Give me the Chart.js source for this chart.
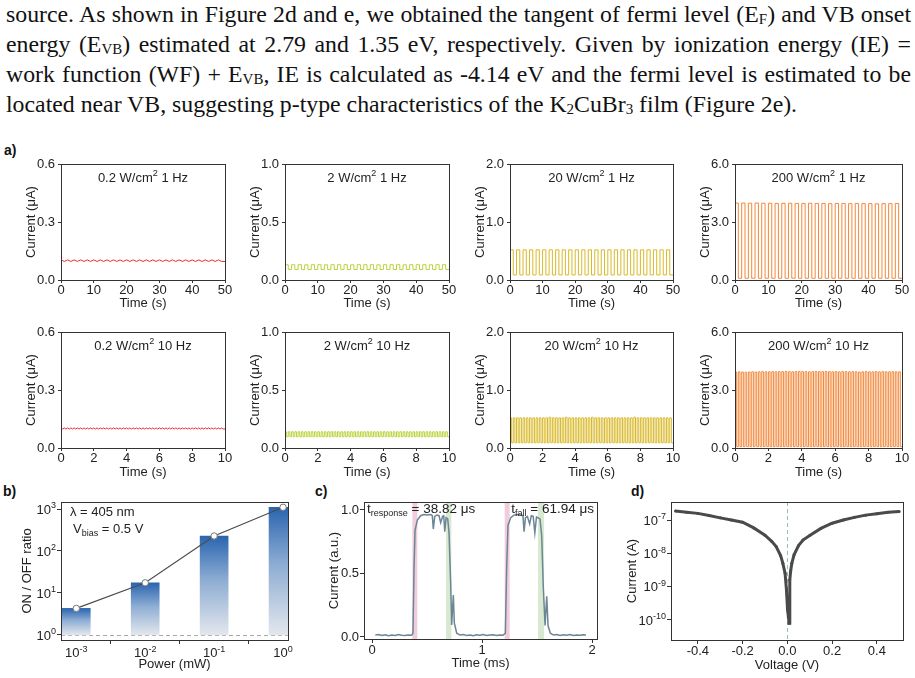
<!DOCTYPE html>
<html>
<head>
<meta charset="utf-8">
<script src="https://cdn.jsdelivr.net/npm/chart.js@4.4.1/dist/chart.umd.min.js"></script>
<style>
  body { margin: 0; width: 915px; height: 678px; background: #fff; position: relative; overflow: hidden;
         font-family: "Liberation Sans", Arial, sans-serif; }
  .para { position: absolute; left: 6px; top: -1px; width: 905px; color: #111;
          font-family: "Liberation Serif", "Times New Roman", serif; font-size: 23.8px; line-height: 30px; }
  .para div { white-space: nowrap; }
  .para .j { text-align: justify; text-align-last: justify; }
  .para sub { font-size: 15px; vertical-align: -2px; line-height: 0; }
  .lab { position: absolute; font-weight: bold; font-size: 14px; color: #111; }
  canvas { position: absolute; }
</style>
</head>
<body>
<div class="para">
  <div class="j">source. As shown in Figure 2d and e, we obtained the tangent of fermi level (E<sub>F</sub>) and VB onset</div>
  <div class="j">energy (E<sub>VB</sub>) estimated at 2.79 and 1.35 eV, respectively. Given by ionization energy (IE) =</div>
  <div class="j">work function (WF) + E<sub>VB</sub>, IE is calculated as -4.14 eV and the fermi level is estimated to be</div>
  <div>located near VB, suggesting p-type characteristics of the K<sub>2</sub>CuBr<sub>3</sub> film (Figure 2e).</div>
</div>
<div class="lab" style="left:4px;top:142px">a)</div>
<div class="lab" style="left:3px;top:483px">b)</div>
<div class="lab" style="left:315px;top:483px">c)</div>
<div class="lab" style="left:631px;top:483px">d)</div>

<script>
// ---------- panel a : pulsed photocurrent ----------
const powerLabels = ['0.2', '2', '20', '200'];          // W/cm2
const freqLabels = ['1 Hz', '10 Hz'];
const yMaxA = [0.6, 1.0, 2.0, 6.0];
const yTicksA = [[0, 0.3, 0.6], [0, 0.5, 1.0], [0, 1.0, 2.0], [0, 3.0, 6.0]];
const xTicksA = [[0, 10, 20, 30, 40, 50], [0, 2, 4, 6, 8, 10]];
const xMaxA = [50, 10];
const pulseOnTime = [1.0, 0.1];                          // s, light on (then same time off)
const waveColors = ['#ec2b2b', '#bcd23c', '#d9b92a', '#f3883b'];

const offLevel1Hz = [0.096, 0.090, 0.088, 0.090];
const offLevel10Hz = [0.098, 0.097, 0.090, 0.070];

// on-state current of each pulse (uA)
const on1Hz_0p2W = [0.104,0.104,0.104,0.104,0.104,0.104,0.104,0.104,0.104,0.104,0.104,0.104,0.104,
  0.104,0.104,0.104,0.104,0.104,0.104,0.104,0.104,0.104,0.104,0.104,0.104];
const on1Hz_2W = [0.132,0.132,0.132,0.131,0.132,0.132,0.131,0.132,0.132,0.132,0.131,0.132,0.132,
  0.132,0.131,0.132,0.132,0.132,0.131,0.132,0.132,0.132,0.131,0.132,0.132];
const on1Hz_20W = [0.52,0.52,0.52,0.52,0.52,0.52,0.52,0.52,0.52,0.52,0.52,0.52,0.52,
  0.52,0.52,0.52,0.52,0.52,0.52,0.52,0.52,0.52,0.52,0.52,0.52];
const on1Hz_200W = [3.98,3.98,3.97,3.98,3.97,3.97,3.96,3.97,3.97,3.96,3.96,3.97,3.96,
  3.96,3.95,3.96,3.96,3.95,3.96,3.95,3.95,3.94,3.95,3.95,3.96];

const on10Hz_0p2W = [0.104,0.104,0.104,0.104,0.104,0.104,0.104,0.104,0.104,0.104,
  0.104,0.104,0.104,0.104,0.104,0.104,0.104,0.104,0.104,0.104,
  0.104,0.104,0.104,0.104,0.104,0.104,0.104,0.104,0.104,0.104,
  0.104,0.104,0.104,0.104,0.104,0.104,0.104,0.104,0.104,0.104,
  0.104,0.104,0.104,0.104,0.104,0.104,0.104,0.104,0.104,0.104];
const on10Hz_2W = [0.14,0.14,0.14,0.14,0.14,0.14,0.14,0.14,0.14,0.14,
  0.14,0.14,0.14,0.14,0.14,0.14,0.14,0.14,0.14,0.14,
  0.14,0.14,0.14,0.14,0.14,0.14,0.14,0.14,0.14,0.14,
  0.14,0.14,0.14,0.14,0.14,0.14,0.14,0.14,0.14,0.14,
  0.14,0.14,0.14,0.14,0.14,0.14,0.14,0.14,0.14,0.14];
const on10Hz_20W = [0.52,0.52,0.52,0.52,0.52,0.52,0.52,0.52,0.52,0.52,
  0.52,0.52,0.53,0.52,0.52,0.52,0.52,0.53,0.52,0.52,
  0.52,0.52,0.52,0.52,0.52,0.53,0.52,0.52,0.52,0.52,
  0.52,0.52,0.52,0.52,0.52,0.52,0.52,0.52,0.53,0.52,
  0.52,0.52,0.52,0.52,0.52,0.52,0.52,0.52,0.52,0.52];
const on10Hz_200W = [3.93,3.94,3.93,3.92,3.93,3.94,3.93,3.94,3.95,3.94,
  3.94,3.95,3.94,3.95,3.95,3.96,3.95,3.94,3.95,3.96,
  3.95,3.95,3.94,3.95,3.96,3.95,3.95,3.96,3.95,3.94,
  3.95,3.94,3.95,3.95,3.94,3.95,3.94,3.93,3.94,3.95,
  3.94,3.94,3.95,3.94,3.95,3.94,3.94,3.95,3.94,3.94];

const onLevels = [[on1Hz_0p2W, on1Hz_2W, on1Hz_20W, on1Hz_200W],
                  [on10Hz_0p2W, on10Hz_2W, on10Hz_20W, on10Hz_200W]];
const offLevels = [offLevel1Hz, offLevel10Hz];

// ---------- panel b : ON/OFF ratio ----------
const powerMW = [1e-3, 1e-2, 1e-1, 1];
const onOffRatio = [4.3, 17.5, 228, 1100];
const powerTicks = [1e-3, 1e-2, 1e-1, 1];
const ratioTicks = [1, 10, 100, 1000];

// ---------- panel c : transient response ----------
const traceTime = [0.03,0.06,0.09,0.12,0.15,0.18,0.21,0.24,0.27,0.30,0.33,0.36,0.372,0.382,0.391,0.412,
  0.442,0.47,0.503,0.535,0.548,0.557,0.570,0.59,0.609,0.624,0.642,0.652,0.661,0.673,0.688,0.700,
  0.715,0.724,0.739,0.748,0.770,0.80,0.83,0.86,0.89,0.92,0.95,0.98,1.01,1.04,1.07,1.10,1.13,1.16,
  1.19,1.212,1.224,1.236,1.261,1.29,1.32,1.35,1.372,1.382,1.395,1.412,1.433,1.448,1.465,1.480,
  1.495,1.527,1.542,1.557,1.573,1.588,1.600,1.621,1.65,1.68,1.71,1.74,1.77,1.80,1.83,1.86,1.89,
  1.92,1.945];
const traceCurrent = [0.015,0.02,0.012,0.018,0.01,0.015,0.012,0.02,0.014,0.012,0.016,0.013,0.03,0.55,0.84,0.92,
  0.955,0.965,0.96,0.965,0.955,0.85,0.95,0.96,0.955,0.90,0.95,0.955,0.83,0.94,0.93,0.82,
  0.42,0.094,0.33,0.11,0.03,0.015,0.02,0.012,0.016,0.01,0.018,0.013,0.02,0.012,0.015,0.018,0.011,0.016,
  0.013,0.03,0.55,0.88,0.94,0.96,0.965,0.96,0.955,0.83,0.94,0.95,0.89,0.955,0.95,0.82,
  0.945,0.93,0.80,0.39,0.09,0.32,0.09,0.03,0.015,0.02,0.012,0.018,0.014,0.02,0.012,0.016,0.013,
  0.018,0.015];
const riseBands = [[0.367, 0.412], [1.206, 1.251]];
const fallBands = [[0.673, 0.721], [1.509, 1.564]];
const responseText = '38.82 μs';
const fallText = '61.94 μs';

// ---------- panel d : I-V ----------
const voltage = [-0.5,-0.45,-0.4,-0.35,-0.3,-0.25,-0.2,-0.15,-0.1,-0.07,-0.05,-0.03,-0.02,-0.01,-0.004,
  0.001,0.005,0.008,0.011,0.015,0.02,0.03,0.05,0.07,0.1,0.15,0.2,0.25,0.3,0.35,0.4,0.45,0.5];
const currentA = [1.85e-7,1.72e-7,1.58e-7,1.36e-7,1.16e-7,1.0e-7,8.6e-8,5.8e-8,3.5e-8,2.3e-8,1.6e-8,8.5e-9,5e-9,2.5e-9,8e-10,
  2e-10,1.2e-10,8e-11,1.6e-9,3e-9,5e-9,9e-9,1.7e-8,2.5e-8,3.4e-8,5.6e-8,8e-8,1.0e-7,1.2e-7,1.4e-7,1.55e-7,1.7e-7,1.8e-7];
const currentTicks = [1e-10, 1e-9, 1e-8, 1e-7];
const voltageTicks = [-0.4, -0.2, 0, 0.2, 0.4];

// ---------- helpers ----------
Chart.defaults.font.family = '"Liberation Sans", Arial, sans-serif';
Chart.defaults.font.size = 13;
Chart.defaults.color = '#222';
Chart.defaults.animation = false;
Chart.defaults.responsive = false;
Chart.defaults.devicePixelRatio = 1;
Chart.defaults.plugins.legend.display = false;
Chart.defaults.plugins.tooltip.enabled = false;

const PAD_T = 12, PAD_R = 12;
const FAM = '"Liberation Sans", Arial, sans-serif';

function makeCanvas(plot, yW, xH) {
  const cv = document.createElement('canvas');
  const w = yW + (plot.r - plot.l) + PAD_R;
  const h = PAD_T + (plot.b - plot.t) + xH;
  cv.width = w; cv.height = h;
  cv.style.left = (plot.l - yW) + 'px';
  cv.style.top = (plot.t - PAD_T) + 'px';
  cv.style.width = w + 'px'; cv.style.height = h + 'px';
  document.body.appendChild(cv);
  return cv;
}

function scaleOpts(o) {
  return {
    type: o.type || 'linear', min: o.min, max: o.max,
    afterBuildTicks: s => { s.ticks = o.ticks.map(v => ({value: v})); },
    afterFit: s => { if (o.horiz) s.height = o.size; else s.width = o.size; },
    grid: {drawOnChartArea: false, tickLength: o.tl || 3, color: '#333', lineWidth: 1},
    border: {display: true, color: '#333', width: 1},
    ticks: {display: !o.custom, autoSkip: false, maxRotation: 0, padding: o.pad === undefined ? 1 : o.pad,
            color: '#222', font: {size: 13}, callback: o.fmt},
    title: {display: true, text: o.title, color: '#222', font: {size: 13}, padding: 0}
  };
}

// text with sub/superscript pieces: [[text, 'sup'|'sub'|undefined], ...]
function richText(c, segs, x, y, size, align) {
  const small = Math.round(size * 0.68);
  let w = 0;
  segs.forEach(s => { c.font = (s[1] ? small : size) + 'px ' + FAM; w += c.measureText(s[0]).width; });
  let cx = align === 'center' ? x - w / 2 : align === 'right' ? x - w : x;
  c.textAlign = 'left'; c.textBaseline = 'alphabetic';
  segs.forEach(s => {
    c.font = (s[1] ? small : size) + 'px ' + FAM;
    const dy = s[1] === 'sup' ? -size * 0.4 : s[1] === 'sub' ? size * 0.25 : 0;
    c.fillText(s[0], cx, y + dy);
    cx += c.measureText(s[0]).width;
  });
}

const framePlugin = {
  id: 'frame',
  afterDraw(chart) {
    const a = chart.chartArea, c = chart.ctx;
    const al = v => Math.round(v - 0.5) + 0.5;
    c.save();
    c.strokeStyle = '#333'; c.lineWidth = 1;
    c.strokeRect(al(a.left), al(a.top), al(a.right) - al(a.left), al(a.bottom) - al(a.top));
    c.restore();
  }
};

const textPlugin = {
  id: 'texts',
  afterDraw(chart, args, opts) {
    const c = chart.ctx, a = chart.chartArea;
    c.save(); c.fillStyle = '#222';
    (opts.items || []).forEach(it => {
      const x = it.align === 'center' ? (a.left + a.right) / 2 : it.align === 'right' ? a.right + it.dx : a.left + it.dx;
      richText(c, it.segs, x, a.top + it.dy, it.size, it.align);
    });
    (opts.pow || []).forEach(ax => {
      const s = chart.scales[ax];
      s.ticks.forEach(t => {
        const seg = [['10'], [String(Math.round(Math.log10(t.value))), 'sup']];
        if (ax === 'x') richText(c, seg, s.getPixelForValue(t.value), s.top + 17, 13, 'center');
        else richText(c, seg, s.right - 5, s.getPixelForValue(t.value) + 4.6, 13, 'right');
      });
    });
    c.restore();
  }
};

const refLinePlugin = {
  id: 'refLine',
  beforeDatasetsDraw(chart, args, opts) {
    const c = chart.ctx, a = chart.chartArea;
    c.save();
    (opts.bands || []).forEach(b => {
      const xs = chart.scales.x;
      c.fillStyle = b.color;
      b.ranges.forEach(r => {
        const x0 = xs.getPixelForValue(r[0]), x1 = xs.getPixelForValue(r[1]);
        c.fillRect(x0, a.top, x1 - x0, a.bottom - a.top);
      });
    });
    if (opts.y !== undefined) {
      const y = Math.round(chart.scales.y.getPixelForValue(opts.y)) + 0.5;
      c.strokeStyle = opts.color; c.setLineDash([4, 3]); c.lineWidth = 1;
      c.beginPath(); c.moveTo(a.left, y); c.lineTo(a.right, y); c.stroke();
    }
    if (opts.x !== undefined) {
      const x = Math.round(chart.scales.x.getPixelForValue(opts.x)) + 0.5;
      c.strokeStyle = opts.color; c.setLineDash([4, 3]); c.lineWidth = 1;
      c.beginPath(); c.moveTo(x, a.top); c.lineTo(x, a.bottom); c.stroke();
    }
    c.restore();
  }
};

// ---------- panel a charts ----------
const colLeft = [61, 285, 510, 735], colRight = [225, 449, 673, 902];
const rowTop = [164, 332], rowBottom = [280, 448], rowXH = [31, 32];

function squareWave(on, off, t) {
  const pts = [];
  on.forEach((v, k) => { pts.push({x: 2 * k * t, y: v}); pts.push({x: (2 * k + 1) * t, y: off}); });
  pts.push({x: 2 * on.length * t, y: off});
  return pts;
}

for (let r = 0; r < 2; r++) {
  for (let c = 0; c < 4; c++) {
    const plot = {l: colLeft[c], r: colRight[c], t: rowTop[r], b: rowBottom[r]};
    const cv = makeCanvas(plot, 37, rowXH[r]);
    new Chart(cv, {
      type: 'line',
      data: {datasets: [{
        data: squareWave(onLevels[r][c], offLevels[r][c], pulseOnTime[r]),
        borderColor: waveColors[c], borderWidth: 1, pointRadius: 0, fill: false,
        stepped: c === 0 ? false : 'before', tension: 0
      }]},
      options: {
        layout: {padding: {top: PAD_T, right: PAD_R, left: 0, bottom: 0}},
        scales: {
          x: scaleOpts({min: 0, max: xMaxA[r], ticks: xTicksA[r], fmt: v => String(v), title: 'Time (s)',
                        horiz: true, size: rowXH[r], tl: 3, pad: 0}),
          y: scaleOpts({min: 0, max: yMaxA[c], ticks: yTicksA[c], fmt: v => v.toFixed(1), title: 'Current (μA)',
                        size: 37, tl: 3, pad: 3})
        },
        plugins: {texts: {items: [{segs: [[powerLabels[c] + ' W/cm'], ['2', 'sup'], [' ' + freqLabels[r]]],
                                    align: 'center', dy: 17.5, size: 13}]}}
      },
      plugins: [framePlugin, textPlugin]
    });
  }
}

// ---------- panel b ----------
{
  const plot = {l: 61, r: 288, t: 502, b: 640};
  const cv = makeCanvas(plot, 41, 32);
  new Chart(cv, {
    type: 'bar',
    data: {datasets: [
      {type: 'line', data: powerMW.map((p, i) => ({x: p, y: onOffRatio[i]})), borderColor: '#4d4d4d',
       borderWidth: 1.2, pointRadius: 3.2, pointBackgroundColor: '#fff', pointBorderColor: '#777',
       pointBorderWidth: 1, order: 0},
      {type: 'bar', data: powerMW.map((p, i) => ({x: p, y: [1, onOffRatio[i]]})), barThickness: 28,
       borderWidth: 0, order: 1,
       backgroundColor: ctx => {
         const ch = ctx.chart;
         if (!ch.chartArea) return '#2b66b0';
         const ys = ch.scales.y;
         const top = ys.getPixelForValue(onOffRatio[ctx.dataIndex]), bot = ys.getPixelForValue(1);
         const g = ch.ctx.createLinearGradient(0, top, 0, bot);
         g.addColorStop(0, '#2a65b0'); g.addColorStop(0.45, '#8eadd3'); g.addColorStop(1, '#e3e7ed');
         return g;
       }}
    ]},
    options: {
      layout: {padding: {top: PAD_T, right: PAD_R, left: 0, bottom: 0}},
      scales: {
        x: scaleOpts({type: 'logarithmic', min: 6.07e-4, max: 1.18, ticks: powerTicks, title: 'Power (mW)',
                      horiz: true, size: 32, tl: 4, custom: true}),
        y: scaleOpts({type: 'logarithmic', min: 0.76, max: 1468, ticks: ratioTicks, title: 'ON / OFF ratio',
                      size: 41, tl: 4, custom: true})
      },
      plugins: {
        refLine: {y: 1, color: '#a8a8a8'},
        texts: {pow: ['x', 'y'], items: [
          {segs: [['λ = 405 nm']], align: 'left', dx: 9, dy: 14, size: 13},
          {segs: [['V'], ['bias', 'sub'], [' = 0.5 V']], align: 'left', dx: 12, dy: 31, size: 13}
        ]}
      }
    },
    plugins: [refLinePlugin, framePlugin, textPlugin]
  });
}

// ---------- panel c ----------
{
  const plot = {l: 364, r: 597, t: 502, b: 639};
  const cv = makeCanvas(plot, 37, 32);
  new Chart(cv, {
    type: 'line',
    data: {datasets: [{data: traceTime.map((t, i) => ({x: t, y: traceCurrent[i]})), borderColor: '#6b8694',
                       borderWidth: 1.5, pointRadius: 0, tension: 0}]},
    options: {
      layout: {padding: {top: PAD_T, right: PAD_R, left: 0, bottom: 0}},
      scales: {
        x: scaleOpts({min: -0.073, max: 2.045, ticks: [0, 1, 2], fmt: v => String(v), title: 'Time (ms)',
                      horiz: true, size: 32, tl: 4, pad: 0}),
        y: scaleOpts({min: -0.016, max: 1.063, ticks: [0, 0.5, 1], fmt: v => v.toFixed(1), title: 'Current (a.u.)',
                      size: 37, tl: 4, pad: 1})
      },
      plugins: {
        refLine: {bands: [{color: 'rgba(232,170,196,0.6)', ranges: riseBands},
                          {color: 'rgba(190,218,178,0.6)', ranges: fallBands}]},
        texts: {items: [
          {segs: [['t'], ['response', 'sub'], [' = ' + responseText]], align: 'left', dx: 3, dy: 11, size: 13.5},
          {segs: [['t'], ['fall', 'sub'], [' = ' + fallText]], align: 'right', dx: -3, dy: 11, size: 13.5}
        ]}
      }
    },
    plugins: [refLinePlugin, framePlugin, textPlugin]
  });
}

// ---------- panel d ----------
{
  const plot = {l: 671, r: 903, t: 502, b: 640};
  const cv = makeCanvas(plot, 46, 33);
  new Chart(cv, {
    type: 'line',
    data: {datasets: [{data: voltage.map((v, i) => ({x: v, y: currentA[i]})), borderColor: '#4a4a4a',
                       borderWidth: 3, pointRadius: 1.5, pointBackgroundColor: '#4a4a4a', pointBorderWidth: 0,
                       tension: 0}]},
    options: {
      layout: {padding: {top: PAD_T, right: PAD_R, left: 0, bottom: 0}},
      scales: {
        x: scaleOpts({min: -0.52, max: 0.517, ticks: voltageTicks, fmt: v => v.toFixed(1), title: 'Voltage (V)',
                      horiz: true, size: 33, tl: 4, pad: 0}),
        y: scaleOpts({type: 'logarithmic', min: 2.5e-11, max: 3.47e-7, ticks: currentTicks, title: 'Current (A)',
                      size: 46, tl: 4, custom: true})
      },
      plugins: {
        refLine: {x: 0, color: '#9bbcbc'},
        texts: {pow: ['y']}
      }
    },
    plugins: [refLinePlugin, framePlugin, textPlugin]
  });
}
</script>
</body>
</html>
